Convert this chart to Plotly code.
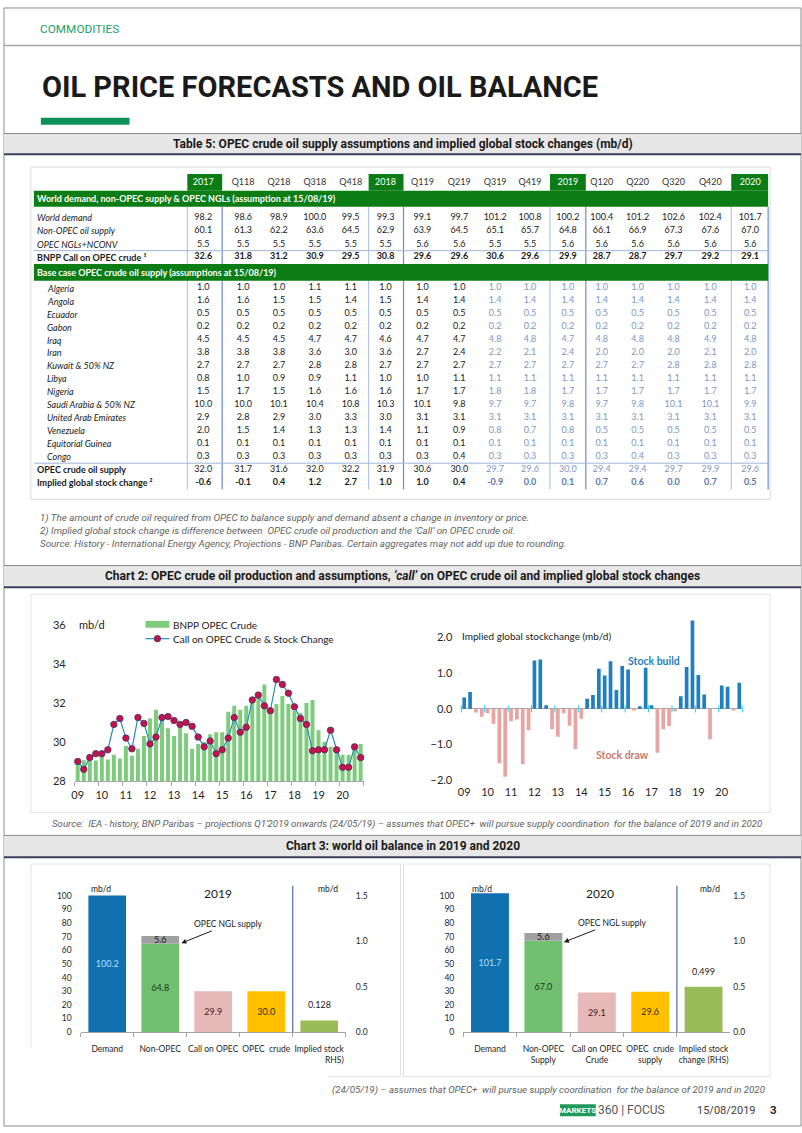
import plotly.graph_objects as go

W, H = 802, 1133
NARROW = "Roboto, Liberation Sans, sans-serif"
CAL = "Lato, Carlito, Calibri, sans-serif"

# ---------------- Table 5 data ----------------
table_cols = ["2017", "Q118", "Q218", "Q318", "Q418", "2018", "Q119", "Q219",
              "Q319", "Q419", "2019", "Q120", "Q220", "Q320", "Q420", "2020"]
year_cols = ["2017", "2018", "2019", "2020"]
top_labels = ["World demand", "Non-OPEC oil supply", "OPEC NGLs+NCONV"]
world_demand = [98.2, 98.6, 98.9, 100.0, 99.5, 99.3, 99.1, 99.7, 101.2, 100.8, 100.2, 100.4, 101.2, 102.6, 102.4, 101.7]
non_opec_supply = [60.1, 61.3, 62.2, 63.6, 64.5, 62.9, 63.9, 64.5, 65.1, 65.7, 64.8, 66.1, 66.9, 67.3, 67.6, 67.0]
opec_ngls = [5.5, 5.5, 5.5, 5.5, 5.5, 5.5, 5.6, 5.6, 5.5, 5.5, 5.6, 5.6, 5.6, 5.6, 5.6, 5.6]
bnpp_call = [32.6, 31.8, 31.2, 30.9, 29.5, 30.8, 29.6, 29.6, 30.6, 29.6, 29.9, 28.7, 28.7, 29.7, 29.2, 29.1]

countries = ["Algeria", "Angola", "Ecuador", "Gabon", "Iraq", "Iran", "Kuwait & 50% NZ", "Libya",
             "Nigeria", "Saudi Arabia & 50% NZ", "United Arab Emirates", "Venezuela",
             "Equitorial Guinea", "Congo"]
algeria = [1.0, 1.0, 1.0, 1.1, 1.1, 1.0, 1.0, 1.0, 1.0, 1.0, 1.0, 1.0, 1.0, 1.0, 1.0, 1.0]
angola = [1.6, 1.6, 1.5, 1.5, 1.4, 1.5, 1.4, 1.4, 1.4, 1.4, 1.4, 1.4, 1.4, 1.4, 1.4, 1.4]
ecuador = [0.5, 0.5, 0.5, 0.5, 0.5, 0.5, 0.5, 0.5, 0.5, 0.5, 0.5, 0.5, 0.5, 0.5, 0.5, 0.5]
gabon = [0.2, 0.2, 0.2, 0.2, 0.2, 0.2, 0.2, 0.2, 0.2, 0.2, 0.2, 0.2, 0.2, 0.2, 0.2, 0.2]
iraq = [4.5, 4.5, 4.5, 4.7, 4.7, 4.6, 4.7, 4.7, 4.8, 4.8, 4.7, 4.8, 4.8, 4.8, 4.9, 4.8]
iran = [3.8, 3.8, 3.8, 3.6, 3.0, 3.6, 2.7, 2.4, 2.2, 2.1, 2.4, 2.0, 2.0, 2.0, 2.1, 2.0]
kuwait = [2.7, 2.7, 2.7, 2.8, 2.8, 2.7, 2.7, 2.7, 2.7, 2.7, 2.7, 2.7, 2.7, 2.8, 2.8, 2.8]
libya = [0.8, 1.0, 0.9, 0.9, 1.1, 1.0, 1.0, 1.1, 1.1, 1.1, 1.1, 1.1, 1.1, 1.1, 1.1, 1.1]
nigeria = [1.5, 1.7, 1.5, 1.6, 1.6, 1.6, 1.7, 1.7, 1.8, 1.8, 1.7, 1.7, 1.7, 1.7, 1.7, 1.7]
saudi = [10.0, 10.0, 10.1, 10.4, 10.8, 10.3, 10.1, 9.8, 9.7, 9.7, 9.8, 9.7, 9.8, 10.1, 10.1, 9.9]
uae = [2.9, 2.8, 2.9, 3.0, 3.3, 3.0, 3.1, 3.1, 3.1, 3.1, 3.1, 3.1, 3.1, 3.1, 3.1, 3.1]
venezuela = [2.0, 1.5, 1.4, 1.3, 1.3, 1.4, 1.1, 0.9, 0.8, 0.7, 0.8, 0.5, 0.5, 0.5, 0.5, 0.5]
eq_guinea = [0.1, 0.1, 0.1, 0.1, 0.1, 0.1, 0.1, 0.1, 0.1, 0.1, 0.1, 0.1, 0.1, 0.1, 0.1, 0.1]
congo = [0.3, 0.3, 0.3, 0.3, 0.3, 0.3, 0.3, 0.4, 0.3, 0.3, 0.3, 0.3, 0.4, 0.3, 0.3, 0.3]
opec_crude_supply = [32.0, 31.7, 31.6, 32.0, 32.2, 31.9, 30.6, 30.0, 29.7, 29.6, 30.0, 29.4, 29.4, 29.7, 29.9, 29.6]
implied_stock_change = [-0.6, -0.1, 0.4, 1.2, 2.7, 1.0, 1.0, 0.4, -0.9, 0.0, 0.1, 0.7, 0.6, 0.0, 0.7, 0.5]
first_forecast_col = "Q319"

# ---------------- Chart 2 data (quarterly, Q1 2009 - Q4 2020) ----------------
chart2_years = ["09", "10", "11", "12", "13", "14", "15", "16", "17", "18", "19", "20"]
opec_crude_q = [29.15, 29.07, 29.05, 29.05, 29.3, 29.1, 29.35, 29.15,
                29.8, 29.3, 29.65, 30.3, 31.2, 31.65, 31.35, 30.7,
                30.3, 30.85, 30.45, 29.65, 29.9, 30.0, 30.4, 30.5,
                30.5, 31.55, 31.85, 31.65, 31.85, 32.15, 32.45, 32.95,
                31.7, 31.95, 32.35, 31.95, 31.6, 31.5, 32.0, 32.15,
                30.6, 30.0, 29.75, 29.65, 29.35, 29.35, 29.7, 29.9]
call_on_opec_q = [29.0, 28.6, 29.2, 29.4, 29.4, 29.6, 30.9, 31.2,
                  30.2, 29.65, 31.25, 30.95, 29.9, 30.25, 31.25, 31.3,
                  31.1, 30.9, 31.0, 30.8, 30.25, 29.75, 30.05, 29.4,
                  29.6, 30.2, 31.25, 30.5, 30.75, 32.15, 32.4, 31.85,
                  31.6, 33.2, 32.95, 32.5, 31.8, 31.2, 30.9, 29.55,
                  29.6, 29.6, 30.6, 29.6, 28.7, 28.7, 29.75, 29.2]
stock_change_q = [0.32, 0.47, -0.1, -0.22, -0.12, -0.42, -1.52, -1.9,
                  -0.35, -0.3, -1.55, -0.6, 1.35, 1.38, 0.1, -0.57,
                  -0.78, -0.12, -0.47, -1.13, -0.28, 0.28, 0.39, 1.12,
                  0.93, 1.33, 0.53, 1.2, 1.1, -0.02, 0.07, 1.15,
                  0.1, -1.23, -0.57, -0.48, -0.07, 0.35, 1.17, 2.47,
                  0.95, 0.4, -0.85, 0.0, 0.65, 0.62, -0.03, 0.73]

# ---------------- Chart 3 data ----------------
balance_cats = ["Demand", "Non-OPEC Supply", "Call on OPEC Crude", "OPEC crude supply", "Implied stock change (RHS)"]
ticks_2019 = ["Demand", "Non-OPEC", "Call on OPEC", "OPEC  crude", "Implied stock"]
ticks_2020 = ["Demand", "Non-OPEC<br>Supply", "Call on OPEC<br>Crude", "OPEC  crude<br>supply", "Implied stock<br>change (RHS)"]
balance_2019 = [100.2, 64.8, 29.9, 30.0]
ngl_2019 = 5.6
stock_2019 = 0.128
balance_2020 = [101.7, 67.0, 29.1, 29.6]
ngl_2020 = 5.6
stock_2020 = 0.499

# ================= layout helpers =================
def fy(y):
    return 1 - y / H

def fx(x):
    return x / W

shapes, annotations = [], []

def rect(x0, y0, x1, y1, fill=None, line=None, lw=1, layer="below"):
    shapes.append(dict(type="rect", xref="x", yref="y", x0=x0, y0=y0, x1=x1, y1=y1,
                       fillcolor=fill if fill else "rgba(0,0,0,0)",
                       line=dict(color=line if line else "rgba(0,0,0,0)", width=lw if line else 0),
                       layer=layer))

def seg(x0, y0, x1, y1, color, lw=1, layer="below"):
    shapes.append(dict(type="line", xref="x", yref="y", x0=x0, y0=y0, x1=x1, y1=y1,
                       line=dict(color=color, width=lw), layer=layer))

def txt(x, y, s, size=9, color="#1a1a1a", family=CAL, anchor="left", bold=False, italic=False):
    if bold:
        s = "<b>" + s + "</b>"
    if italic:
        s = "<i>" + s + "</i>"
    annotations.append(dict(x=x, y=y, xref="x", yref="y", text=s, showarrow=False,
                            xanchor=anchor, yanchor="middle",
                            font=dict(family=family, size=size, color=color)))

fig = go.Figure()

# ================= page furniture =================
rect(1, 1, 801, 1132, line="#8c8c8c", lw=1)
seg(1, 39, 801, 39, "#a6a6a6", 1.5)
txt(35, 22, "COMMODITIES", size=11.8, color="#22a06b", family=NARROW)
txt(37, 81, "OIL PRICE FORECASTS AND OIL BALANCE", size=29, color="#1a1a1a", family=NARROW, bold=True)
rect(38, 112, 127, 119, fill="#11915a")

def band(y0, y1, title):
    rect(1, y0, 801, y1, fill="#e7e7e7")
    seg(1, y0, 801, y0, "#8a8a8a", 1)
    seg(1, y1, 801, y1, "#3d3d5c", 2)
    txt(401, (y0 + y1) / 2, title, size=12, color="#1a1a1a", family=NARROW, anchor="center", bold=True)

band(128, 149, "Table 5: OPEC crude oil supply assumptions and implied global stock changes (mb/d)")
band(565, 587, "Chart 2: OPEC crude oil production and assumptions, <i>‘call’</i> on OPEC crude oil and implied global stock changes")
band(838, 860, "Chart 3: world oil balance in 2019 and 2020")

# boxes
rect(28, 162, 770, 498, line="#dadada", lw=1)
rect(28, 594, 770, 815, line="#e3e3e3", lw=1)
rect(28, 867, 399, 1082, line="#e3e3e3", lw=1)
rect(402, 867, 770, 1082, line="#e3e3e3", lw=1)
rect(2, 1053, 326, 1106, fill="#ffffff")

# ================= Table 5 =================
GREEN = "#0b7d14"
HIST = "#1a1a1a"
FC = "#8096c2"
FC_B = "#5a76ad"
col_x = [201, 241, 277, 313, 349, 384, 421, 458, 494, 529, 567, 601, 637, 673, 710, 750]
col_edges = {"2017": (185, 220), "2018": (367, 402), "2019": (549, 585), "2020": (731, 768)}
fc_idx = table_cols.index(first_forecast_col)

header_y = 177.5
band1_y = (186, 202)
top_y = [213, 226.5, 240, 253]
band2_y = (260, 277)
pitch = 13.1
country_y0 = 284.5
supply_y = 468
implied_y = 481.5

for c in year_cols:
    a, b = col_edges[c]
    seg(a, 202, a, 488, "#a9bde0", 1)
    seg(b, 202, b, 488, "#6f8cc4", 1.2)
seg(31, 246.5, 768, 246.5, "#9fb6dc", 1)
seg(31, 461.5, 768, 461.5, "#9fb6dc", 1)

for c in year_cols:
    a, b = col_edges[c]
    rect(a, 169, b, 186, fill=GREEN)
rect(31, band1_y[0], 768, band1_y[1], fill=GREEN)
rect(31, band2_y[0], 768, band2_y[1], fill=GREEN)
txt(32, sum(band1_y) / 2, "World demand, non-OPEC supply & OPEC NGLs (assumption at 15/08/19)",
    size=9, color="#ffffff", bold=True)
txt(32, sum(band2_y) / 2, "Base case OPEC crude oil supply (assumptions at 15/08/19)",
    size=9, color="#ffffff", bold=True)

fig.add_trace(go.Scatter(
    x=col_x, y=[header_y] * len(table_cols), mode="text", text=table_cols,
    textfont=dict(family=CAL, size=9, color=["#ffffff" if c in year_cols else "#333333" for c in table_cols]),
    xaxis="x", yaxis="y", hoverinfo="skip", showlegend=False, cliponaxis=False))

def add_row(values, y, bold=False, forecast=False, fc_color=FC):
    texts, colors = [], []
    for i, v in enumerate(values):
        s = f"{v:.1f}"
        texts.append("<b>" + s + "</b>" if bold else s)
        colors.append(fc_color if (forecast and i >= fc_idx) else HIST)
    fig.add_trace(go.Scatter(
        x=col_x, y=[y] * len(values), mode="text", text=texts,
        textfont=dict(family=CAL, size=9, color=colors),
        xaxis="x", yaxis="y", hoverinfo="skip", showlegend=False, cliponaxis=False))

for lab, vals, y in zip(top_labels, [world_demand, non_opec_supply, opec_ngls], top_y[:3]):
    txt(32, y, lab, size=9, color=HIST, italic=True)
    add_row(vals, y)
txt(32, top_y[3], "BNPP Call on OPEC crude ¹", size=9, color=HIST, bold=True)
add_row(bnpp_call, top_y[3], bold=True)

country_vals = [algeria, angola, ecuador, gabon, iraq, iran, kuwait, libya, nigeria,
                saudi, uae, venezuela, eq_guinea, congo]
for k, (name, vals) in enumerate(zip(countries, country_vals)):
    y = country_y0 + k * pitch
    txt(42, y, name, size=9, color=HIST, italic=True)
    add_row(vals, y, forecast=True)

txt(32, supply_y, "OPEC crude oil supply", size=9, color=HIST, bold=True)
add_row(opec_crude_supply, supply_y, forecast=True)
txt(32, implied_y, "Implied global stock change ²", size=9, color=HIST, bold=True)
add_row(implied_stock_change, implied_y, bold=True, forecast=True, fc_color=FC_B)

NOTE = "#5f5f5f"
txt(35, 517, "1) The amount of crude oil required from OPEC to balance supply and demand absent a change in inventory or price.",
    size=9.8, color=NOTE, family=NARROW, italic=True)
txt(35, 530, "2) Implied global stock change is difference between  OPEC crude oil production and the ‘Call’ on OPEC crude oil.",
    size=9.8, color=NOTE, family=NARROW, italic=True)
txt(35, 543, "Source: History - International Energy Agency, Projections - BNP Paribas. Certain aggregates may not add up due to rounding.",
    size=9.8, color=NOTE, family=NARROW, italic=True)

# ================= Chart 2 =================
xq = list(range(len(opec_crude_q)))
year_ticks = [4 * k for k in range(len(chart2_years))]
year_bounds = [4 * k - 0.5 for k in range(len(chart2_years) + 1)]
BAR_G = "#7ccc7c"
LINE_B = "#2a8ab5"
MK = "#c8104a"

fig.add_trace(go.Bar(x=xq, y=opec_crude_q, marker=dict(color=BAR_G, line=dict(width=0)), width=0.66,
                     xaxis="x2", yaxis="y2", showlegend=False, hoverinfo="skip"))
fig.add_trace(go.Scatter(x=xq, y=call_on_opec_q, mode="lines+markers",
                         line=dict(color=LINE_B, width=1.2),
                         marker=dict(size=6.5, color=MK, line=dict(color="#3b3b6e", width=0.8)),
                         xaxis="x2", yaxis="y2", showlegend=False, hoverinfo="skip", cliponaxis=False))

# manual legend
rect(143, 621, 167, 628, fill=BAR_G)
seg(143, 639, 167, 639, LINE_B, 1.2)
fig.add_trace(go.Scatter(x=[155], y=[639], mode="markers",
                         marker=dict(size=6.5, color=MK, line=dict(color="#3b3b6e", width=0.8)),
                         xaxis="x", yaxis="y", showlegend=False, hoverinfo="skip", cliponaxis=False))
txt(169, 625, "BNPP OPEC Crude", size=10, color="#1a1a1a")
txt(169, 639, "Call on OPEC Crude & Stock Change", size=10, color="#1a1a1a")
txt(74, 625, "mb/d", size=11, color="#1a1a1a")

colors_sc = ["#1f7fbf" if v >= 0 else "#e8a3a3" for v in stock_change_q]
fig.add_trace(go.Bar(x=xq, y=stock_change_q, marker=dict(color=colors_sc, line=dict(width=0)), width=0.63,
                     xaxis="x3", yaxis="y3", showlegend=False, hoverinfo="skip"))
fig.add_trace(go.Scatter(x=year_bounds, y=[0] * len(year_bounds), mode="markers",
                         marker=dict(symbol="line-ns-open", size=5, line=dict(color="#a6a6a6", width=1)),
                         xaxis="x3", yaxis="y3", showlegend=False, hoverinfo="skip", cliponaxis=False))
txt(459, 636, "Implied global stockchange (mb/d)", size=10, color="#1a1a1a")
txt(625, 662, "Stock build", size=10.5, color="#1f7fbf", bold=True)
txt(593, 757, "Stock draw", size=10.5, color="#c8786a", bold=True)

txt(47, 826, "Source:  IEA - history, BNP Paribas – projections Q1'2019 onwards (24/05/19) – assumes that OPEC+  will pursue supply coordination  for the balance of 2019 and in 2020",
    size=9.7, color=NOTE, family=NARROW, italic=True)

# ================= Chart 3 =================
def balance_chart(xa, ya, yb, vals, ngl, stock):
    cols = ["#1170b0", "#70c070", "#e6b8b7", "#ffc000"]
    tcols = ["#b3defb", "#1a3a1a", "#4a1a1a", "#3a2a00"]
    fig.add_trace(go.Bar(x=balance_cats[:4], y=vals, marker=dict(color=cols, line=dict(width=0)),
                         width=0.71, text=[f"{v:.1f}" for v in vals], textposition="inside",
                         insidetextanchor="middle", textangle=0, constraintext="none",
                         textfont=dict(family=CAL, size=9, color=tcols),
                         xaxis=xa, yaxis=ya, showlegend=False, hoverinfo="skip"))
    fig.add_trace(go.Bar(x=[balance_cats[1]], y=[ngl], base=[vals[1]],
                         marker=dict(color="#a0a0a0", line=dict(width=0)), width=0.71,
                         text=[f"{ngl:.1f}"], textposition="inside", insidetextanchor="middle", textangle=0,
                         constraintext="none",
                         textfont=dict(family=CAL, size=9, color="#1a1a1a"),
                         xaxis=xa, yaxis=ya, showlegend=False, hoverinfo="skip"))
    fig.add_trace(go.Bar(x=[balance_cats[4]], y=[stock], marker=dict(color="#9bbb59", line=dict(width=0)),
                         width=0.71, xaxis=xa, yaxis=yb, showlegend=False, hoverinfo="skip"))
    annotations.append(dict(x=balance_cats[4], y=stock, xref=xa, yref=yb, text=f"{stock:.3f}",
                            showarrow=False, yanchor="bottom", yshift=8,
                            font=dict(family=CAL, size=9, color="#1a1a1a")))
    shapes.append(dict(type="line", xref=xa, yref="paper", x0=3.5, x1=3.5, y0=fy(1037), y1=fy(889),
                       line=dict(color="#6f87b5", width=1.5), layer="above"))

balance_chart("x4", "y4", "y5", balance_2019, ngl_2019, stock_2019)
balance_chart("x5", "y6", "y7", balance_2020, ngl_2020, stock_2020)

txt(86, 892, "mb/d", size=8.5)
txt(314, 892, "mb/d", size=8.5)
txt(216, 897, "2019", size=12, anchor="center")
txt(469, 892, "mb/d", size=8.5)
txt(698, 892, "mb/d", size=8.5)
txt(599, 897, "2020", size=12, anchor="center")
txt(333, 1065, "RHS)", size=8.5, anchor="center")
for (tx, ty, hx, hy) in [(226, 928, 179, 947), (611, 927, 563, 946)]:
    annotations.append(dict(x=hx, y=hy, xref="x", yref="y", ax=tx, ay=ty, axref="x", ayref="y",
                            text="OPEC NGL supply", showarrow=True, arrowhead=2, arrowsize=1,
                            arrowwidth=1, arrowcolor="#1a1a1a", standoff=0,
                            font=dict(family=CAL, size=8.5, color="#1a1a1a")))

txt(328, 1096, "(24/05/19) – assumes that OPEC+  will pursue supply coordination  for the balance of 2019 and in 2020",
    size=9.7, color=NOTE, family=NARROW, italic=True)

# footer
rect(559, 1110, 595, 1122, fill="#1f9a5a")
txt(577, 1116, "MARKETS", size=8, color="#ffffff", family=NARROW, anchor="center", bold=True)
txt(595, 1116, "360 | FOCUS", size=12, color="#595959", family=NARROW)
txt(695, 1116, "15/08/2019", size=11, color="#404040", family=NARROW)
txt(768, 1116, "3", size=11.5, color="#262626", family=NARROW, bold=True)

# ================= axes =================
tick_font = dict(family=CAL, size=11, color="#262626")
small_font = dict(family=CAL, size=8.5, color="#262626")
AX = "#a6a6a6"

layout_axes = dict(
    xaxis=dict(domain=[0, 1], range=[0, W], visible=False, fixedrange=True),
    yaxis=dict(domain=[0, 1], range=[H, 0], visible=False, fixedrange=True),
    xaxis2=dict(domain=[fx(72), fx(362)], anchor="y2", range=[-0.5, len(xq) - 0.5],
                tickmode="array", tickvals=year_ticks, ticktext=chart2_years, ticks="",
                showline=True, linecolor=AX, linewidth=1, showgrid=False, zeroline=False,
                tickfont=tick_font, ticklabelstandoff=4,
                minor=dict(tickmode="array", tickvals=year_bounds, ticks="outside", ticklen=4,
                           tickcolor=AX, showgrid=False)),
    yaxis2=dict(domain=[fy(783), fy(625)], anchor="x2", range=[28, 36],
                tickmode="array", tickvals=[28, 30, 32, 34, 36], ticks="", showgrid=False,
                zeroline=False, showline=False, tickfont=tick_font, ticklabelstandoff=8),
    xaxis3=dict(domain=[fx(460), fx(742)], anchor="y3", range=[-0.5, len(xq) - 0.5],
                tickmode="array", tickvals=year_ticks, ticktext=chart2_years, ticks="",
                showline=False, showgrid=False, zeroline=False, tickfont=tick_font, ticklabelstandoff=4),
    yaxis3=dict(domain=[fy(782.3), fy(619.6)], anchor="x3", range=[-2.0, 2.5],
                tickmode="array", tickvals=[-2, -1, 0, 1, 2], tickformat=".1f", ticks="",
                showgrid=False, zeroline=True, zerolinecolor=AX, zerolinewidth=1,
                showline=False, tickfont=tick_font, ticklabelstandoff=8),
    xaxis4=dict(domain=[fx(78), fx(344)], anchor="y4", type="category", categoryorder="array",
                categoryarray=balance_cats, tickmode="array", tickvals=balance_cats, ticktext=ticks_2019,
                ticks="outside", tickson="boundaries", ticklen=4, tickcolor=AX, tickangle=0,
                ticklabelstandoff=9,
                showline=True, linecolor=AX, showgrid=False, tickfont=small_font),
    yaxis4=dict(domain=[fy(1037), fy(1037 - 102 * 1.38)], anchor="x4", range=[0, 102],
                tickmode="array", tickvals=list(range(0, 101, 10)), ticks="", showgrid=False,
                zeroline=False, showline=False, tickfont=small_font, ticklabelstandoff=8),
    yaxis5=dict(overlaying="y4", side="right", anchor="x4", range=[0, 1.53],
                tickmode="array", tickvals=[0, 0.5, 1.0, 1.5], tickformat=".1f", ticks="",
                showgrid=False, zeroline=False, showline=False, tickfont=small_font, ticklabelstandoff=9),
    xaxis5=dict(domain=[fx(462), fx(730)], anchor="y6", type="category", categoryorder="array",
                categoryarray=balance_cats, tickmode="array", tickvals=balance_cats, ticktext=ticks_2020,
                ticks="outside", tickson="boundaries", ticklen=4, tickcolor=AX, tickangle=0,
                ticklabelstandoff=9,
                showline=True, linecolor=AX, showgrid=False, tickfont=small_font),
    yaxis6=dict(domain=[fy(1037), fy(1037 - 102 * 1.38)], anchor="x5", range=[0, 102],
                tickmode="array", tickvals=list(range(0, 101, 10)), ticks="", showgrid=False,
                zeroline=False, showline=False, tickfont=small_font, ticklabelstandoff=8),
    yaxis7=dict(overlaying="y6", side="right", anchor="x5", range=[0, 1.53],
                tickmode="array", tickvals=[0, 0.5, 1.0, 1.5], tickformat=".1f", ticks="",
                showgrid=False, zeroline=False, showline=False, tickfont=small_font, ticklabelstandoff=2),
)

fig.update_layout(
    width=W, height=H, margin=dict(l=0, r=0, t=0, b=0, pad=0),
    paper_bgcolor="#ffffff", plot_bgcolor="rgba(0,0,0,0)",
    font=dict(family=CAL, size=9, color="#1a1a1a"),
    barmode="overlay", showlegend=False, hovermode=False,
    shapes=shapes, annotations=annotations,
    **layout_axes,
)

fig.write_html("out.html", config={"displayModeBar": False},
               post_script="document.body.style.margin='0';document.body.style.overflow='hidden';")
